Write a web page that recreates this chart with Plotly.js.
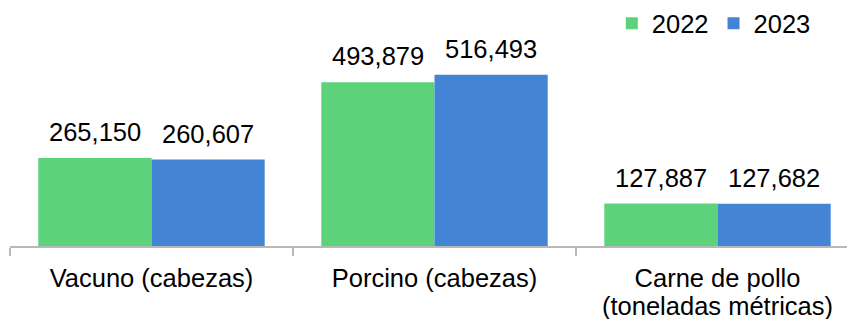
<!DOCTYPE html>
<html>
<head>
<meta charset="utf-8">
<script src="https://cdn.plot.ly/plotly-3.0.1.min.js"></script>
<style>html,body{margin:0;padding:0;background:#fff;}#chart{width:847px;height:319px;}</style>
</head>
<body>
<div id="chart"></div>
<script>
const categories = ["Vacuno (cabezas)", "Porcino (cabezas)", "Carne de pollo<br>(toneladas métricas)"];
const seriesNames = ["2022", "2023"];
const values2022 = [265150, 493879, 127887];
const values2023 = [260607, 516493, 127682];
const colors = ["#5cd37a", "#4484d4"];

const fmt = v => v.toLocaleString("en-US");
const allValues = [values2022, values2023];
const FONT = "Liberation Sans, Arial, sans-serif";
const FS = 25.5;

const traces = allValues.map((vals, i) => ({
  type: "bar",
  name: seriesNames[i],
  x: categories,
  y: vals,
  marker: {color: colors[i]},
  hoverinfo: "none"
}));

const W = 847, left = 10;
const plotW = W - left;
const catPx = 283;
const groupPx = catPx * (1 - 0.2);
const barPx = groupPx / 2;

const annotations = [];
allValues.forEach((vals, i) => {
  vals.forEach((v, j) => {
    annotations.push({
      x: categories[j], y: v, xref: "x", yref: "y",
      text: fmt(v), showarrow: false,
      xshift: (i === 0 ? -1 : 1) * barPx / 2,
      yanchor: "bottom", yshift: 10,
      font: {family: FONT, size: FS, color: "#000"}
    });
  });
});

// first line of each category as tick label, further lines as tighter-spaced annotations
const firstLines = categories.map(c => c.split("<br>")[0]);
categories.forEach((c, j) => {
  const rest = c.split("<br>").slice(1);
  rest.forEach((line, k) => {
    annotations.push({
      x: c, xref: "x", y: 0, yref: "paper",
      text: line, showarrow: false,
      yanchor: "top", yshift: -44 - 28 * k,
      font: {family: FONT, size: FS, color: "#000"}
    });
  });
});

const layout = {
  width: 847, height: 319,
  margin: {l: left, r: 0, t: 44, b: 73, pad: 0},
  paper_bgcolor: "#fff", plot_bgcolor: "#fff",
  font: {family: FONT, size: FS, color: "#000"},
  barmode: "group", bargap: 0.2, bargroupgap: 0,
  showlegend: true,
  legend: {orientation: "h", x: 0.719, xanchor: "left", y: 1.235, yanchor: "top",
           font: {family: FONT, size: FS, color: "#000"}, bgcolor: "rgba(0,0,0,0)", traceorder: "normal"},
  xaxis: {
    type: "category",
    range: [-0.5, -0.5 + plotW / catPx],
    tickmode: "array", tickvals: categories, ticktext: firstLines,
    showline: true, linecolor: "#b8b8b8", linewidth: 1.5,
    ticks: "outside", tickson: "boundaries", ticklen: 8, tickcolor: "#b8b8b8", tickwidth: 1.5,
    ticklabelstandoff: 9,
    showgrid: false, zeroline: false,
    tickfont: {family: FONT, size: FS, color: "#000"}
  },
  yaxis: {
    range: [0, 600000], visible: false, showgrid: false, zeroline: false
  },
  annotations: annotations
};

Plotly.newPlot("chart", traces, layout, {staticPlot: true, displayModeBar: false});
</script>
</body>
</html>
